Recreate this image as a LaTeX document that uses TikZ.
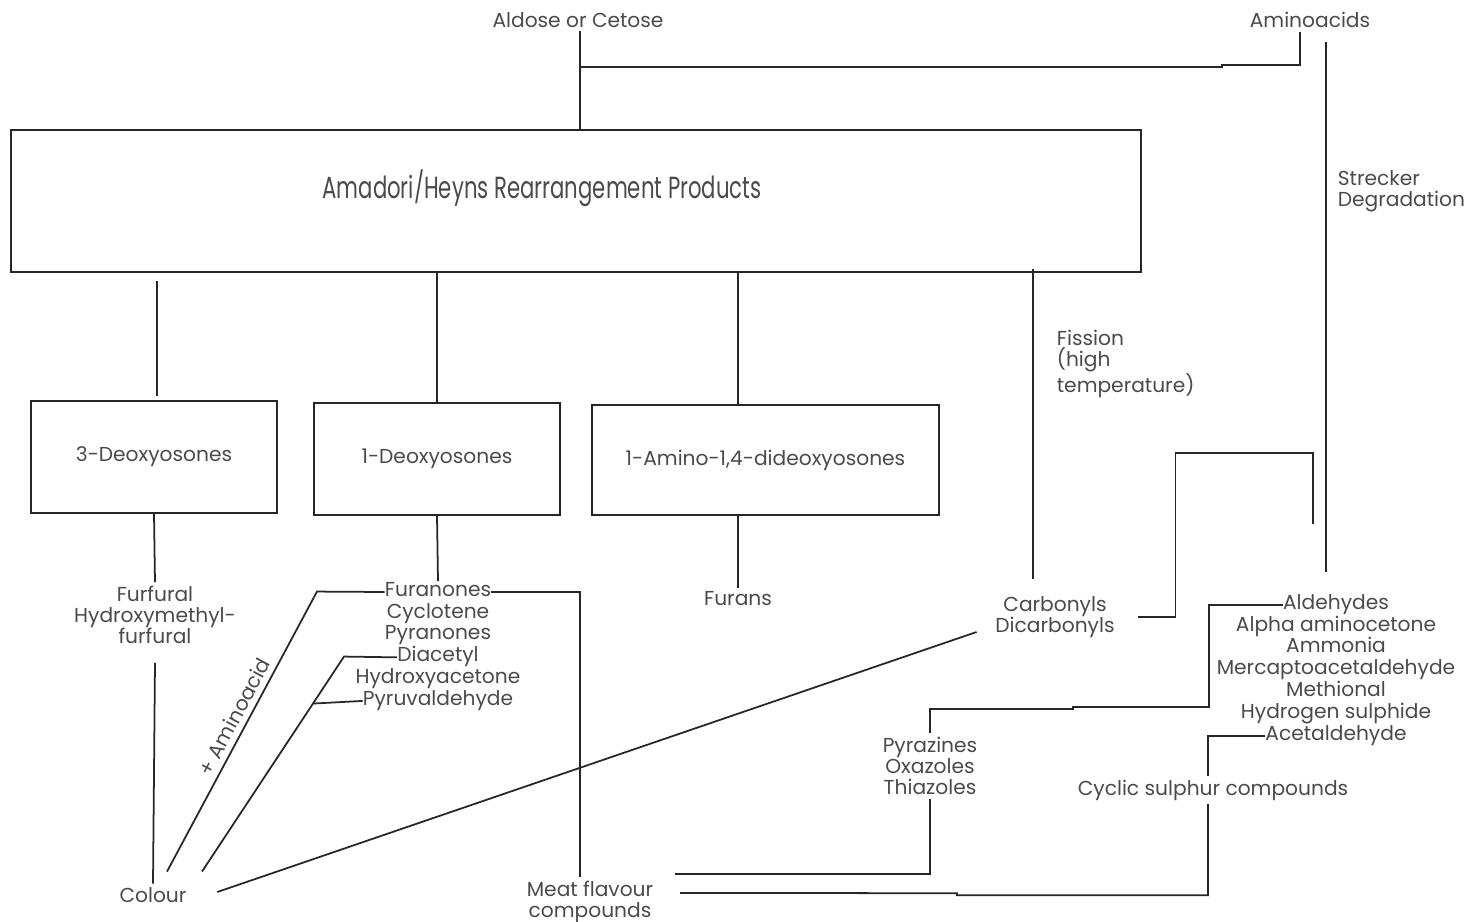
\documentclass[tikz,border=0pt]{standalone}
\usepackage{fontspec}
\setmainfont{Poppins}
\usepackage{graphicx}
\usepackage{tikz}
\usetikzlibrary{positioning}
\definecolor{inkgray}{HTML}{4A4A4A}
\definecolor{linegray}{HTML}{262626}
\tikzset{
  box/.style  = {rectangle, draw=linegray, line width=1.1pt},
  lbl/.style  = {text=inkgray, font=\fontsize{11.5}{12}\selectfont, align=center, inner sep=2pt},
  item/.style = {text=inkgray, font=\fontsize{11.5}{12}\selectfont, inner sep=0pt,
                 text height=8.5pt, text depth=3.5pt},
  link/.style = {draw=linegray, line width=1pt},
}
\begin{document}
\begin{tikzpicture}[x=0.02cm, y=-0.02cm]
    \useasboundingbox (0,0) rectangle (1471,922);

    %% Starting materials
    \node[lbl] (aldose) at (578,20)  {Aldose or Cetose};
    \node[lbl] (amino)  at (1310,20) {Aminoacids};
    \coordinate (join) at (580,67);

    %% Rearrangement products
    \node[box, minimum width=22.6cm, minimum height=2.84cm] (arp) at (576,201) {};
    \node[text=inkgray, inner sep=0pt] (arptitle) at (542,188)
          {\resizebox*{8.78cm}{0.74cm}{Amadori/Heyns Rearrangement Products}};

    \node[box, lbl, minimum width=4.92cm, minimum height=2.24cm] (deoxy3)  at (154,457)   {3-Deoxyosones};
    \node[box, lbl, minimum width=4.92cm, minimum height=2.24cm] (deoxy1)  at (437,459)   {1-Deoxyosones};
    \node[box, lbl, minimum width=6.94cm, minimum height=2.2cm]  (amino14) at (765.5,460) {1-Amino-1,4-dideoxyosones};

    \node[lbl, align=left, anchor=north west] (fission)  at (1053,326) {Fission\\(high\\temperature)};
    \node[lbl, align=left, anchor=north west] (strecker) at (1334,167) {Strecker\\Degradation};

    %% Intermediates
    \node[lbl] (furfural) at (155,615) {Furfural\\Hydroxymethyl-\\furfural};
    \node[item] (furanones) at (438,592) {Furanones};
    \node[item, below=0pt of furanones] (cyclotene)  {Cyclotene};
    \node[item, below=0pt of cyclotene]  (pyranones)  {Pyranones};
    \node[item, below=0pt of pyranones]  (diacetyl)   {Diacetyl};
    \node[item, below=0pt of diacetyl]   (hydroxyac)  {Hydroxyacetone};
    \node[item, below=0pt of hydroxyac]  (pyruvald)   {Pyruvaldehyde};
    \node[lbl] (furans)    at (738,599)  {Furans};
    \node[lbl] (carbonyls) at (1055,617) {Carbonyls\\Dicarbonyls};

    \node[item] (aldehydes) at (1336,605) {Aldehydes};
    \node[item, below=0pt of aldehydes]  (alpha)    {Alpha aminocetone};
    \node[item, below=0pt of alpha]      (ammonia)  {Ammonia};
    \node[item, below=0pt of ammonia]    (mercapto) {Mercaptoacetaldehyde};
    \node[item, below=0pt of mercapto]   (methional){Methional};
    \node[item, below=0pt of methional]  (hsulph)   {Hydrogen sulphide};
    \node[item, below=0pt of hsulph]     (acetald)  {Acetaldehyde};

    \node[lbl] (pyrazines) at (930,766)  {Pyrazines\\Oxazoles\\Thiazoles};
    \node[lbl] (cyclic)    at (1213,790) {Cyclic sulphur compounds};

    %% End products
    \node[lbl] (colour) at (153,895) {Colour};
    \node[lbl] (meat)   at (590,902) {Meat flavour\\compounds};

    %% Top joins
    \draw[link] (aldose.south -| join) -- (join |- arp.north);
    \draw[link] (join) -- ++(642,0) -- ++(0,-2) -| ([xshift=-0.2cm]amino.south);
    \draw[link] ([xshift=0.32cm, yshift=-0.2cm]amino.south) -- ++(0,530);

    %% Out of the main box
    \draw[link] (deoxy3.north |- arp.south) ++(3,8) -- ++(0,115);
    \draw[link] (deoxy1.north |- arp.south) -- (deoxy1.north);
    \draw[link] (furans |- arp.south) -- (furans |- amino14.north);
    \draw[link] ([xshift=-0.44cm]carbonyls.north |- arp.south) ++(0,-4) -- ++(0,310);

    %% Down the columns
    \draw[link] (deoxy3.south) -- (furfural.north);
    \draw[link] ([yshift=-0.3cm]furfural.south) -- (colour.north);
    \draw[link] (deoxy1.south) -- (furanones.north);
    \draw[link] (furans |- amino14.south) -- (furans.north);

    %% Towards colour
    \draw[link] ([shift={(14,-12)}]colour.north) -- node[lbl, sloped, above, pos=.53, inner sep=3pt]{+ Aminoacid}
                ++(150,-280) -- (furanones.west);
    \draw[link] ([shift={(49,-12)}]colour.north) -- ++(111,-168) coordinate (pyb)
                -- ++(31,-47) -- (diacetyl.west);
    \draw[link] (pyb) -- (pyruvald.west);
    \draw[link] ([shift={(27,-3)}]colour.east) -- ([shift={(-15,15)}]carbonyls.west);

    %% Towards meat flavour
    \draw[link] (furanones.east) -| ([xshift=-0.2cm]meat.north);
    \draw[link] ([xshift=0.4cm]carbonyls.east) -- ++(37,0) -- ++(0,-164) -| ([shift={(-23,-70)}]aldehydes.north);
    \draw[link] (aldehydes.west) -- ++(-74,0) -- ++(0,102) -- ++(-136,0) -- ++(0,2) -| (pyrazines.north);
    \draw[link] (pyrazines.south) |- ([shift={(18,-28)}]meat.east);
    \draw[link] (acetald.west) -| ([xshift=-0.1cm]cyclic.north);
    \draw[link] ([xshift=-0.1cm]cyclic.south) -- ++(0,91) -- ++(-251,0) -- ++(0,-2)
                -- ([shift={(23,-9)}]meat.east);

  \end{tikzpicture}
\end{document}
